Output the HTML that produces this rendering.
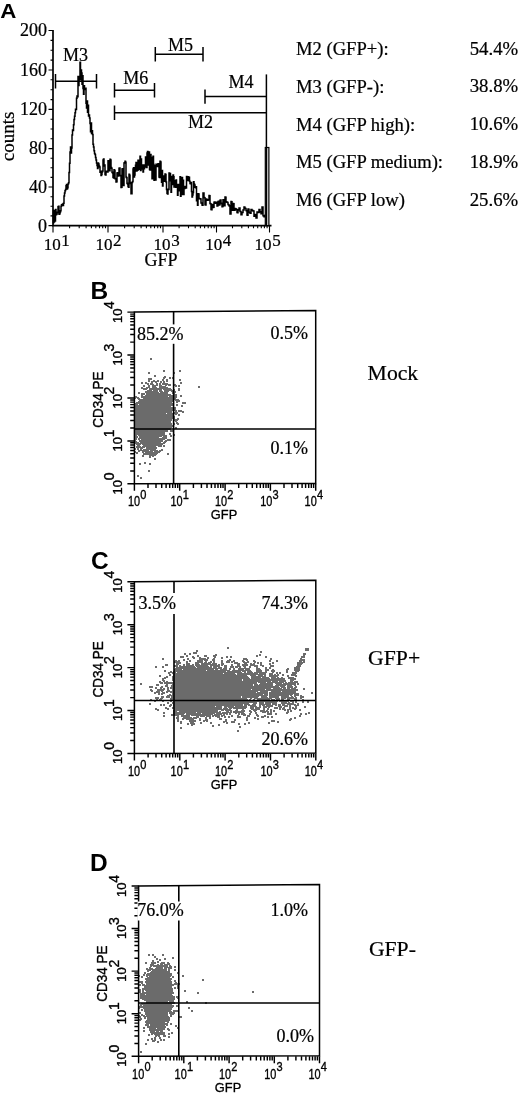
<!DOCTYPE html>
<html><head><meta charset="utf-8"><title>Figure</title>
<style>html,body{margin:0;padding:0;background:#fff}svg{display:block}text{fill:#000}
.se{font-family:"Liberation Serif",serif;stroke:#000;stroke-width:0.22px}.sa{font-family:"Liberation Sans",sans-serif}.tk text{stroke:#000;stroke-width:0.35px}.sb{font-family:"Liberation Sans",sans-serif;font-weight:bold}</style></head>
<body><svg width="520" height="1095" viewBox="0 0 520 1095">
<rect width="520" height="1095" fill="#fff"/>
<text transform="translate(0.3 18.2) scale(1.1 1)" class="sb" font-size="20.3">A</text>
<path d="M53.0 29.900000000000002 V225.6 H271.5" fill="none" stroke="#000" stroke-width="1.7"/>
<path d="M48.5 225.6H53.0M50.5 215.9H53.0M50.5 206.3H53.0M50.5 196.7H53.0M48.5 187.0H53.0M50.5 177.4H53.0M50.5 167.8H53.0M50.5 158.2H53.0M48.5 148.6H53.0M50.5 138.8H53.0M50.5 129.0H53.0M50.5 119.2H53.0M48.5 109.4H53.0M50.5 99.6H53.0M50.5 89.7H53.0M50.5 79.8H53.0M48.5 70.0H53.0M50.5 60.1H53.0M50.5 50.2H53.0M50.5 40.4H53.0M48.5 30.5H53.0" stroke="#000" stroke-width="1.1"/>
<text x="47" y="231.5" text-anchor="end" class="se" font-size="18">0</text>
<text x="47" y="193.2" text-anchor="end" class="se" font-size="18">40</text>
<text x="47" y="154.3" text-anchor="end" class="se" font-size="18">80</text>
<text x="47" y="115.1" text-anchor="end" class="se" font-size="18">120</text>
<text x="47" y="75.5" text-anchor="end" class="se" font-size="18">160</text>
<text x="47" y="36.0" text-anchor="end" class="se" font-size="18">200</text>
<path d="M53.0 225.6v7M69.6 225.6v2.6M79.2 225.6v2.6M86.1 225.6v2.6M91.4 225.6v2.6M95.8 225.6v2.6M99.5 225.6v2.6M102.7 225.6v2.6M105.5 225.6v2.6M108.0 225.6v7M124.6 225.6v2.6M134.2 225.6v2.6M141.1 225.6v2.6M146.4 225.6v2.6M150.8 225.6v2.6M154.5 225.6v2.6M157.7 225.6v2.6M160.5 225.6v2.6M163.0 225.6v7M179.1 225.6v2.6M188.5 225.6v2.6M195.2 225.6v2.6M200.4 225.6v2.6M204.6 225.6v2.6M208.2 225.6v2.6M211.3 225.6v2.6M214.1 225.6v2.6M216.5 225.6v7M232.5 225.6v2.6M241.8 225.6v2.6M248.4 225.6v2.6M253.5 225.6v2.6M257.7 225.6v2.6M261.3 225.6v2.6M264.4 225.6v2.6M267.1 225.6v2.6M269.5 225.6v7" stroke="#000" stroke-width="1.1"/>
<text x="43.7" y="250.3" class="se" font-size="17">10<tspan dx="0.6" dy="-4.2">1</tspan></text>
<text x="95.5" y="250.3" class="se" font-size="17">10<tspan dx="0.6" dy="-4.2">2</tspan></text>
<text x="153.6" y="250.3" class="se" font-size="17">10<tspan dx="0.6" dy="-4.2">3</tspan></text>
<text x="205.2" y="250.3" class="se" font-size="17">10<tspan dx="0.6" dy="-4.2">4</tspan></text>
<text x="254.6" y="250.3" class="se" font-size="17">10<tspan dx="0.6" dy="-4.2">5</tspan></text>
<text x="161" y="266.4" text-anchor="middle" class="se" font-size="18">GFP</text>
<text transform="translate(14.4 136.5) rotate(-90)" text-anchor="middle" class="se" font-size="19">counts</text>
<path d="M53.0 223.1H53.5V210.4H54.0V222.1H54.5V212.3H55.0V221.1H55.5V209.4H56.0V214.8H56.5V214.3H57.0V212.7H57.5V212.2H58.0V206.8H58.5V206.2H59.0V214.2H59.5V213.7H60.0V212.1H60.5V210.7H61.0V206.3H61.5V204.8H62.0V205.5H62.5V204.0H63.0V205.5H63.5V203.2H64.0V196.0H64.5V192.9H65.0V190.8H65.5V189.5H66.0V185.8H66.5V184.5H67.0V189.0H67.5V187.8H68.0V184.0H68.5V182.7H69.0V172.4H69.5V163.2H70.0V152.1H70.5V146.9H71.0V153.0H71.5V148.1H72.0V135.0H72.5V129.9H73.0V130.5H73.5V124.7H74.0V119.6H74.5V116.2H75.0V112.8H75.5V109.3H76.0V109.5H76.5V98.3H77.0V95.9H77.5V96.8H78.0V76.4H78.5V85.5H79.0V79.0H79.5V77.9H80.0V62.2H80.5V79.8H81.0V70.1H81.5V73.1H82.0V84.3H82.5V75.8H83.0V88.5H83.5V94.3H84.0V85.7H84.5V88.6H85.0V89.6H85.5V88.3H86.0V103.3H86.5V107.9H87.0V101.1H87.5V112.2H88.0V105.3H88.5V116.1H89.0V115.1H89.5V118.1H90.0V123.5H90.5V131.8H91.0V123.0H91.5V133.5H92.0V130.8H92.5V134.4H93.0V144.2H93.5V147.1H94.0V150.7H94.5V153.5H95.0V154.5H95.5V157.6H96.0V159.9H96.5V163.1H97.0V165.5H97.5V168.6H98.0V162.9H98.5V164.0H99.0V166.0H99.5V167.0H100.0V172.2H100.5V171.2H101.0V175.5H101.5V174.6H102.0V172.1H102.5V171.1H103.0V160.0H103.5V158.9H104.0V166.0H104.5V165.0H105.0V174.6H105.5V175.1H106.0V171.3H106.5V171.7H107.0V171.4H107.5V171.9H108.0V160.7H108.5V161.2H109.0V170.2H109.5V170.7H110.0V159.2H110.5V159.9H111.0V167.5H111.5V168.2H112.0V172.3H112.5V173.0H113.0V177.3H113.5V178.0H114.0V169.8H114.5V170.5H115.0V178.7H115.5V178.6H116.0V182.0H116.5V181.8H117.0V172.9H117.5V172.7H118.0V176.0H118.5V175.8H119.0V168.2H119.5V168.0H120.0V175.8H120.5V175.5H121.0V187.4H121.5V187.2H122.0V169.1H122.5V168.8H123.0V185.6H123.5V185.4H124.0V163.0H124.5V162.7H125.0V161.3H125.5V162.3H126.0V176.9H126.5V177.8H127.0V183.3H127.5V184.1H128.0V186.4H128.5V187.2H129.0V174.2H129.5V175.2H130.0V182.5H130.5V183.4H131.0V193.8H132.0V182.6H132.5V181.6H133.0V168.9H133.5V167.8H134.0V176.9H134.5V175.0H135.0V169.7H135.5V165.3H136.0V162.4H136.5V171.0H137.0V168.4H137.5V170.2H138.0V160.2H138.5V169.3H139.0V168.1H139.5V168.5H140.0V156.3H140.5V170.5H141.0V159.0H141.5V168.9H142.0V168.5H142.5V164.9H143.0V171.9H143.5V165.1H144.0V168.8H144.5V166.9H145.0V165.5H145.5V156.9H146.0V158.4H146.5V167.6H147.0V152.9H147.5V151.5H148.0V165.1H148.5V160.1H149.0V152.0H149.5V169.6H150.0V170.0H150.5V154.4H151.0V162.8H151.5V157.5H152.0V178.8H152.5V162.3H153.0V156.2H153.5V164.5H154.0V180.2H154.5V165.8H155.0V179.4H155.5V179.9H156.0V164.2H156.5V164.7H157.0V166.1H157.5V166.6H158.0V163.7H158.5V164.2H159.0V177.0H159.5V177.4H160.0V161.3H160.5V162.0H161.0V173.1H161.5V182.2H162.0V170.4H162.5V185.9H163.0V176.0H163.5V176.6H164.0V180.6H164.5V181.2H165.0V173.9H165.5V174.6H166.0V181.9H166.5V189.4H167.0V193.3H167.5V193.9H168.0V189.2H168.5V189.4H169.0V172.9H169.5V180.4H170.0V173.4H170.5V180.7H171.0V192.3H171.5V176.4H172.0V184.3H172.5V184.6H173.0V175.1H173.5V176.7H174.0V187.1H174.5V181.6H175.0V180.7H175.5V187.2H176.0V179.9H176.5V186.7H177.0V184.6H177.5V195.2H178.0V187.0H178.5V190.7H179.0V184.6H179.5V187.7H180.0V176.7H180.5V196.3H181.0V194.5H181.5V194.4H182.0V177.4H182.5V182.8H183.0V180.2H183.5V194.5H184.0V188.6H184.5V188.5H185.0V186.4H185.5V186.7H186.0V187.9H186.5V176.5H187.0V180.1H187.5V180.5H188.0V176.8H188.5V177.2H189.0V177.2H189.5V181.2H190.0V183.4H190.5V183.7H191.0V182.4H191.5V191.6H192.0V197.0H192.5V195.0H193.0V192.4H193.5V181.7H194.0V183.9H194.5V184.9H195.0V187.2H195.5V187.8H196.0V186.8H196.5V200.8H197.0V196.6H197.5V205.3H198.0V193.7H198.5V193.9H199.0V198.6H199.5V198.8H200.0V198.7H200.5V198.9H201.0V202.9H201.5V203.0H202.0V205.1H202.5V205.2H203.0V192.9H203.5V193.1H204.0V197.5H204.5V197.7H205.0V204.8H205.5V205.1H206.0V198.9H206.5V199.2H207.0V200.0H207.5V200.3H208.0V199.7H208.5V200.1H209.0V195.4H209.5V195.8H210.0V203.5H210.5V203.8H211.0V209.4H211.5V209.7H212.0V204.5H212.5V204.9H213.0V207.5H213.5V207.3H214.0V202.3H214.5V202.1H215.0V203.3H215.5V203.1H216.0V202.4H216.5V202.2H217.0V205.9H217.5V205.7H218.0V201.4H218.5V201.2H219.0V205.0H219.5V204.8H220.0V200.2H220.5V200.1H221.0V203.4H221.5V203.3H222.0V206.7H222.5V206.5H223.0V199.7H223.5V200.0H224.0V205.5H224.5V205.8H225.0V196.9H225.5V197.3H226.0V201.8H226.5V202.1H227.0V202.3H227.5V202.6H228.0V204.4H228.5V204.7H229.0V205.7H229.5V206.0H230.0V214.0H230.5V214.1H231.0V201.6H231.5V201.8H232.0V210.0H232.5V210.2H233.0V203.5H233.5V203.7H234.0V210.0H234.5V210.2H235.0V208.6H235.5V208.7H236.0V209.2H236.5V209.4H237.0V212.6H237.5V212.8H238.0V209.8H238.5V210.0H239.0V207.9H239.5V208.1H240.0V211.5H240.5V211.6H241.0V214.7H241.5V214.8H242.0V212.5H242.5V212.6H243.0V209.9H243.5V210.0H244.0V207.1H244.5V207.2H245.0V208.4H245.5V208.6H246.0V210.6H246.5V210.7H247.0V215.1H247.5V215.2H248.0V209.0H248.5V209.2H249.0V212.2H249.5V212.3H250.0V213.3H251.0V209.6H252.0V210.5H253.0V210.9H254.0V216.3H255.0V214.5H256.0V218.1H257.0V211.9H258.0V212.5H259.0V209.5H260.0V211.9H260.5V211.8H261.0V213.7H261.5V213.7H262.0V206.9H262.5V206.9H263.0V215.8H263.5V215.8H264.0V216.7H265.0V214.4H265.0" fill="none" stroke="#000" stroke-width="1.5" stroke-linejoin="miter"/>
<rect x="265.3" y="147.5" width="3.6" height="78.1" fill="#d8d8d8" stroke="#000" stroke-width="1.2"/>
<path d="M55.5 81.2H96.5M55.5 74.0v14.4M96.5 74.0v14.4" stroke="#000" stroke-width="1.5" fill="none"/>
<text x="75.5" y="60.5" text-anchor="middle" class="se" font-size="18">M3</text>
<path d="M114.5 90.2H154.5M114.5 83.0v14.4M154.5 83.0v14.4" stroke="#000" stroke-width="1.5" fill="none"/>
<text x="135.7" y="83.8" text-anchor="middle" class="se" font-size="18">M6</text>
<path d="M155.3 54.2H203M155.3 47.0v14.4M203 47.0v14.4" stroke="#000" stroke-width="1.5" fill="none"/>
<text x="180.4" y="51.3" text-anchor="middle" class="se" font-size="18">M5</text>
<path d="M205 96.6H266.3M205 89.39999999999999v14.4" stroke="#000" stroke-width="1.5" fill="none"/>
<text x="241" y="88" text-anchor="middle" class="se" font-size="18">M4</text>
<path d="M114.5 112.8H266.3M114.5 105.6v14.4" stroke="#000" stroke-width="1.5" fill="none"/>
<text x="200.4" y="128.4" text-anchor="middle" class="se" font-size="18">M2</text>
<path d="M266.4 74.4V225.6" stroke="#000" stroke-width="1.5"/>
<text x="296" y="55" class="se" font-size="18.6">M2 (GFP+):</text>
<text x="518.2" y="54.7" text-anchor="end" class="se" font-size="18.8">54.4%</text>
<text x="296" y="92.7" class="se" font-size="18.6">M3 (GFP-):</text>
<text x="518.2" y="92.4" text-anchor="end" class="se" font-size="18.8">38.8%</text>
<text x="296" y="130.5" class="se" font-size="18.6">M4 (GFP high):</text>
<text x="518.2" y="130.2" text-anchor="end" class="se" font-size="18.8">10.6%</text>
<text x="296" y="168.2" class="se" font-size="18.6">M5 (GFP medium):</text>
<text x="518.2" y="167.89999999999998" text-anchor="end" class="se" font-size="18.8">18.9%</text>
<text x="296" y="206" class="se" font-size="18.6">M6 (GFP low)</text>
<text x="518.2" y="205.7" text-anchor="end" class="se" font-size="18.8">25.6%</text>
<text transform="translate(90.4 298.7) scale(1.05 1)" class="sb" font-size="23.3">B</text>
<path d="M150 358.5h2M150 359.5h2M163 370.5h2M179 370.5h2M163 371.5h2M179 371.5h2M148 372.5h2M173 372.5h2M148 373.5h2M173 373.5h2M154 375.5h2M154 376.5h2M164 376.5h2M163 377.5h3M169 377.5h2M172 377.5h2M148 378.5h4M163 378.5h2M169 378.5h2M172 378.5h2M148 379.5h4M162 379.5h2M166 379.5h2M179 379.5h2M148 380.5h2M153 380.5h2M157 380.5h2M162 380.5h2M166 380.5h2M179 380.5h2M148 381.5h2M151 381.5h8M160 381.5h2M163 381.5h2M166 381.5h2M141 382.5h2M145 382.5h2M151 382.5h2M155 382.5h2M160 382.5h2M163 382.5h2M180 382.5h2M141 383.5h2M145 383.5h4M150 383.5h3M156 383.5h2M159 383.5h2M162 383.5h6M180 383.5h2M147 384.5h2M150 384.5h4M156 384.5h2M159 384.5h2M162 384.5h9M174 384.5h2M143 385.5h2M148 385.5h2M152 385.5h6M159 385.5h3M165 385.5h2M168 385.5h3M174 385.5h3M178 385.5h2M143 386.5h2M148 386.5h2M152 386.5h4M159 386.5h7M175 386.5h2M178 386.5h2M198 386.5h2M141 387.5h2M146 387.5h4M152 387.5h5M159 387.5h9M198 387.5h2M141 388.5h7M149 388.5h22M178 388.5h2M143 389.5h4M149 389.5h13M163 389.5h9M173 389.5h2M178 389.5h2M147 390.5h5M153 390.5h5M159 390.5h3M164 390.5h11M178 390.5h2M145 391.5h13M159 391.5h4M164 391.5h5M171 391.5h2M174 391.5h2M138 392.5h2M145 392.5h14M160 392.5h8M172 392.5h4M138 393.5h2M141 393.5h4M146 393.5h22M172 393.5h3M141 394.5h4M146 394.5h25M173 394.5h4M141 395.5h2M145 395.5h32M180 395.5h2M135 396.5h2M141 396.5h27M169 396.5h8M180 396.5h2M135 397.5h4M141 397.5h36M135 398.5h1M137 398.5h3M143 398.5h33M138 399.5h35M174 399.5h5M139 400.5h34M175 400.5h5M138 401.5h35M176 401.5h4M136 402.5h36M176 402.5h2M182 402.5h4M135 403.5h39M182 403.5h4M135 404.5h3M139 404.5h35M176 404.5h2M135 405.5h38M176 405.5h2M181 405.5h2M135 406.5h36M181 406.5h2M135 407.5h38M174 407.5h2M135 408.5h38M174 408.5h2M135 409.5h41M135 410.5h42M178 410.5h4M135 411.5h37M175 411.5h2M178 411.5h6M135 412.5h37M174 412.5h4M182 412.5h2M135 413.5h31M167 413.5h6M174 413.5h4M135 414.5h38M175 414.5h2M178 414.5h2M135 415.5h38M178 415.5h2M135 416.5h40M135 417.5h40M135 418.5h40M177 418.5h2M135 419.5h37M173 419.5h6M135 420.5h37M174 420.5h4M135 421.5h36M175 421.5h2M135 422.5h36M176 422.5h2M135 423.5h37M173 423.5h2M176 423.5h3M135 424.5h37M173 424.5h2M177 424.5h2M135 425.5h38M135 426.5h38M135 427.5h37M175 427.5h2M135 428.5h36M175 428.5h2M135 429.5h36M135 430.5h33M170 430.5h3M135 431.5h33M170 431.5h3M135 432.5h30M135 433.5h30M169 433.5h2M135 434.5h30M169 434.5h2M173 434.5h2M135 435.5h2M138 435.5h29M170 435.5h2M173 435.5h2M135 436.5h3M139 436.5h23M163 436.5h4M170 436.5h2M135 437.5h3M139 437.5h20M162 437.5h5M135 438.5h2M138 438.5h29M135 439.5h2M138 439.5h2M141 439.5h24M167 439.5h4M135 440.5h1M139 440.5h24M165 440.5h6M135 441.5h2M139 441.5h24M164 441.5h3M135 442.5h4M140 442.5h21M163 442.5h3M135 443.5h30M136 444.5h5M142 444.5h21M137 445.5h3M143 445.5h19M163 445.5h2M136 446.5h5M142 446.5h14M158 446.5h4M163 446.5h2M136 447.5h9M146 447.5h11M135 448.5h1M137 448.5h2M140 448.5h3M146 448.5h11M135 449.5h1M137 449.5h2M140 449.5h2M143 449.5h13M161 449.5h2M138 450.5h11M150 450.5h8M159 450.5h4M135 451.5h1M138 451.5h2M142 451.5h11M154 451.5h7M135 452.5h3M142 452.5h2M145 452.5h15M136 453.5h2M143 453.5h15M167 453.5h2M143 454.5h14M167 454.5h2M142 455.5h2M149 455.5h7M142 456.5h2M149 456.5h2M152 456.5h2M149 457.5h2M154 458.5h2M154 459.5h2M144 462.5h2M139 463.5h2M144 463.5h2M149 463.5h2M139 464.5h2M149 464.5h2M148 470.5h2M148 471.5h2M137 475.5h2M137 476.5h2M140 477.5h2M140 478.5h2" stroke="#6b6b6b" stroke-width="1" fill="none" shape-rendering="crispEdges"/>
<path d="M134.4 312.1L315.7 310.5L315.7 483.40000000000003L134.4 483.8Z" fill="none" stroke="#000" stroke-width="1.5"/>
<path d="M173.6 311.70000000000005V483.8M134.4 429H315.7" stroke="#000" stroke-width="1.6"/>
<path d="M134.4 483.8v7M134.4 483.8h-7M148.0 483.8v4.2M134.4 470.9h-4.2M156.0 483.8v4.2M134.4 463.3h-4.2M161.7 483.8v4.2M134.4 458.0h-4.2M166.1 483.8v4.2M134.4 453.8h-4.2M169.7 483.8v4.2M134.4 450.4h-4.2M172.7 483.8v4.2M134.4 447.5h-4.2M175.3 483.8v4.2M134.4 445.0h-4.2M177.7 483.8v4.2M134.4 442.8h-4.2M179.7 483.8v7M134.4 440.9h-7M193.4 483.8v4.2M134.4 428.0h-4.2M201.4 483.8v4.2M134.4 420.4h-4.2M207.0 483.8v4.2M134.4 415.0h-4.2M211.4 483.8v4.2M134.4 410.9h-4.2M215.0 483.8v4.2M134.4 407.5h-4.2M218.0 483.8v4.2M134.4 404.6h-4.2M220.7 483.8v4.2M134.4 402.1h-4.2M223.0 483.8v4.2M134.4 399.9h-4.2M225.1 483.8v7M134.4 398.0h-7M238.7 483.8v4.2M134.4 385.0h-4.2M246.7 483.8v4.2M134.4 377.5h-4.2M252.3 483.8v4.2M134.4 372.1h-4.2M256.7 483.8v4.2M134.4 367.9h-4.2M260.3 483.8v4.2M134.4 364.5h-4.2M263.4 483.8v4.2M134.4 361.7h-4.2M266.0 483.8v4.2M134.4 359.2h-4.2M268.3 483.8v4.2M134.4 357.0h-4.2M270.4 483.8v7M134.4 355.0h-7M284.0 483.8v4.2M134.4 342.1h-4.2M292.0 483.8v4.2M134.4 334.5h-4.2M297.7 483.8v4.2M134.4 329.2h-4.2M302.1 483.8v4.2M134.4 325.0h-4.2M305.6 483.8v4.2M134.4 321.6h-4.2M308.7 483.8v4.2M134.4 318.7h-4.2M311.3 483.8v4.2M134.4 316.3h-4.2M313.6 483.8v4.2M134.4 314.1h-4.2M315.7 483.8v7M134.4 312.1h-7" stroke="#000" stroke-width="1.45"/>
<g transform="translate(127.9 506.40000000000003)" class="tk"><text class="sa" font-size="14" transform="scale(0.78 1)">10</text><text x="12.3" y="-7.4" class="sa" font-size="13" transform="scale(0.85 1)" style="transform-origin:12.3px 0">0</text></g>
<g transform="translate(122.0 494.4) rotate(-90)" class="tk"><text class="sa" font-size="13" transform="scale(1 0.93)">10</text><text x="14.2" y="-7.6" class="sa" font-size="14">0</text></g>
<g transform="translate(170.5 506.40000000000003)" class="tk"><text class="sa" font-size="14" transform="scale(0.78 1)">10</text><text x="12.3" y="-7.4" class="sa" font-size="13" transform="scale(0.85 1)" style="transform-origin:12.3px 0">1</text></g>
<g transform="translate(122.0 451.5) rotate(-90)" class="tk"><text class="sa" font-size="13" transform="scale(1 0.93)">10</text><text x="14.2" y="-7.6" class="sa" font-size="14">1</text></g>
<g transform="translate(215.0 506.40000000000003)" class="tk"><text class="sa" font-size="14" transform="scale(0.78 1)">10</text><text x="12.3" y="-7.4" class="sa" font-size="13" transform="scale(0.85 1)" style="transform-origin:12.3px 0">2</text></g>
<g transform="translate(122.0 408.6) rotate(-90)" class="tk"><text class="sa" font-size="13" transform="scale(1 0.93)">10</text><text x="14.2" y="-7.6" class="sa" font-size="14">2</text></g>
<g transform="translate(260.3 506.40000000000003)" class="tk"><text class="sa" font-size="14" transform="scale(0.78 1)">10</text><text x="12.3" y="-7.4" class="sa" font-size="13" transform="scale(0.85 1)" style="transform-origin:12.3px 0">3</text></g>
<g transform="translate(122.0 365.6) rotate(-90)" class="tk"><text class="sa" font-size="13" transform="scale(1 0.93)">10</text><text x="14.2" y="-7.6" class="sa" font-size="14">3</text></g>
<g transform="translate(304.6 506.40000000000003)" class="tk"><text class="sa" font-size="14" transform="scale(0.78 1)">10</text><text x="12.3" y="-7.4" class="sa" font-size="13" transform="scale(0.85 1)" style="transform-origin:12.3px 0">4</text></g>
<g transform="translate(122.0 323.1) rotate(-90)" class="tk"><text class="sa" font-size="13" transform="scale(1 0.93)">10</text><text x="14.2" y="-7.6" class="sa" font-size="14">4</text></g>
<text x="224.1" y="519.3" text-anchor="middle" class="sa" font-size="12.8" letter-spacing="0.1" stroke="#000" stroke-width="0.3">GFP</text>
<g class="tk" transform="translate(103.0 399.70000000000005) rotate(-90) scale(0.9 1)"><text text-anchor="middle" class="sa" font-size="15">CD34 PE</text></g>
<rect x="136.5" y="324.4" width="48.5" height="19.4" fill="#fff"/>
<text x="137" y="339.5" text-anchor="start" class="se" font-size="18">85.2%</text>
<text x="308" y="339" text-anchor="end" class="se" font-size="18">0.5%</text>
<text x="308" y="454" text-anchor="end" class="se" font-size="18">0.1%</text>
<text x="367.6" y="380.4" class="se" font-size="21.7">Mock</text>
<text transform="translate(91.0 568.6) scale(1.05 1)" class="sb" font-size="23.3">C</text>
<path d="M227 647.5h2M227 648.5h2M305 648.5h4M305 649.5h4M196 650.5h2M305 650.5h4M196 651.5h2M260 651.5h2M193 652.5h4M260 652.5h2M184 653.5h2M189 653.5h2M193 653.5h4M303 653.5h3M184 654.5h2M189 654.5h2M215 654.5h2M259 654.5h2M303 654.5h3M186 655.5h2M197 655.5h2M204 655.5h3M213 655.5h4M256 655.5h2M259 655.5h2M303 655.5h2M180 656.5h4M186 656.5h2M192 656.5h2M197 656.5h2M204 656.5h3M213 656.5h3M226 656.5h2M230 656.5h2M256 656.5h2M265 656.5h2M301 656.5h4M180 657.5h4M192 657.5h3M199 657.5h2M207 657.5h2M214 657.5h2M221 657.5h2M226 657.5h2M230 657.5h2M265 657.5h2M301 657.5h4M162 658.5h2M187 658.5h2M193 658.5h2M199 658.5h7M207 658.5h2M213 658.5h2M221 658.5h2M243 658.5h4M270 658.5h2M300 658.5h2M162 659.5h2M183 659.5h2M187 659.5h2M199 659.5h9M212 659.5h3M229 659.5h2M243 659.5h5M270 659.5h2M300 659.5h5M175 660.5h2M178 660.5h2M183 660.5h2M189 660.5h2M197 660.5h6M204 660.5h4M212 660.5h3M221 660.5h2M227 660.5h4M233 660.5h2M242 660.5h2M246 660.5h2M253 660.5h2M269 660.5h2M276 660.5h2M299 660.5h6M174 661.5h6M186 661.5h2M189 661.5h2M197 661.5h6M205 661.5h2M210 661.5h2M213 661.5h2M221 661.5h2M226 661.5h4M231 661.5h4M242 661.5h3M247 661.5h2M253 661.5h3M269 661.5h2M276 661.5h2M299 661.5h3M303 661.5h2M174 662.5h7M186 662.5h2M195 662.5h8M204 662.5h3M208 662.5h4M213 662.5h2M221 662.5h2M226 662.5h4M231 662.5h2M234 662.5h4M243 662.5h6M254 662.5h2M257 662.5h2M260 662.5h2M272 662.5h2M297 662.5h8M176 663.5h5M186 663.5h4M195 663.5h4M201 663.5h10M212 663.5h5M221 663.5h3M234 663.5h6M244 663.5h3M250 663.5h2M253 663.5h2M257 663.5h2M260 663.5h2M269 663.5h2M272 663.5h2M297 663.5h6M165 664.5h3M176 664.5h3M183 664.5h2M186 664.5h4M192 664.5h2M195 664.5h5M201 664.5h16M218 664.5h2M221 664.5h3M231 664.5h2M237 664.5h3M242 664.5h6M250 664.5h5M260 664.5h2M269 664.5h2M297 664.5h5M165 665.5h3M174 665.5h4M179 665.5h2M183 665.5h2M186 665.5h8M195 665.5h13M210 665.5h10M221 665.5h2M224 665.5h3M231 665.5h2M237 665.5h3M242 665.5h6M250 665.5h8M260 665.5h4M270 665.5h4M297 665.5h4M155 666.5h2M162 666.5h2M174 666.5h4M179 666.5h16M196 666.5h13M210 666.5h2M213 666.5h7M224 666.5h3M230 666.5h4M235 666.5h6M243 666.5h3M249 666.5h2M254 666.5h4M262 666.5h2M270 666.5h4M296 666.5h5M155 667.5h2M162 667.5h2M176 667.5h20M197 667.5h15M213 667.5h4M218 667.5h4M224 667.5h3M230 667.5h4M235 667.5h3M239 667.5h2M244 667.5h2M249 667.5h2M256 667.5h2M265 667.5h2M269 667.5h2M294 667.5h6M175 668.5h47M223 668.5h4M229 668.5h2M233 668.5h2M238 668.5h12M256 668.5h4M265 668.5h2M269 668.5h2M287 668.5h2M294 668.5h6M174 669.5h8M183 669.5h31M215 669.5h3M220 669.5h7M229 669.5h2M233 669.5h2M238 669.5h6M245 669.5h5M256 669.5h5M265 669.5h4M272 669.5h2M286 669.5h3M294 669.5h6M164 670.5h2M174 670.5h32M207 670.5h23M232 670.5h19M256 670.5h6M265 670.5h4M271 670.5h4M286 670.5h2M294 670.5h6M164 671.5h2M170 671.5h2M173 671.5h53M227 671.5h14M242 671.5h4M247 671.5h5M256 671.5h6M265 671.5h2M271 671.5h4M286 671.5h2M295 671.5h4M168 672.5h8M177 672.5h65M244 672.5h2M247 672.5h6M254 672.5h13M272 672.5h2M276 672.5h2M279 672.5h2M286 672.5h2M292 672.5h5M168 673.5h2M172 673.5h51M224 673.5h11M237 673.5h21M259 673.5h7M269 673.5h4M276 673.5h2M279 673.5h2M292 673.5h5M169 674.5h2M173 674.5h63M237 674.5h29M269 674.5h4M274 674.5h2M277 674.5h2M282 674.5h2M291 674.5h5M159 675.5h2M169 675.5h2M173 675.5h74M250 675.5h6M258 675.5h5M264 675.5h2M269 675.5h10M282 675.5h2M287 675.5h2M291 675.5h6M159 676.5h2M166 676.5h2M172 676.5h76M251 676.5h15M269 676.5h9M287 676.5h2M295 676.5h2M164 677.5h4M172 677.5h77M251 677.5h10M262 677.5h7M271 677.5h5M277 677.5h2M281 677.5h2M288 677.5h6M162 678.5h4M172 678.5h78M251 678.5h19M271 678.5h14M288 678.5h8M162 679.5h2M172 679.5h70M243 679.5h42M290 679.5h6M162 680.5h3M172 680.5h70M243 680.5h43M290 680.5h4M159 681.5h2M163 681.5h2M166 681.5h2M173 681.5h98M272 681.5h6M279 681.5h7M290 681.5h3M294 681.5h4M159 682.5h4M164 682.5h93M258 682.5h8M267 682.5h17M285 682.5h2M288 682.5h10M140 683.5h2M160 683.5h3M164 683.5h93M260 683.5h13M275 683.5h7M283 683.5h13M297 683.5h2M140 684.5h2M156 684.5h3M166 684.5h2M172 684.5h81M254 684.5h4M259 684.5h14M276 684.5h20M297 684.5h2M156 685.5h3M165 685.5h3M171 685.5h82M254 685.5h19M275 685.5h11M287 685.5h5M294 685.5h2M149 686.5h4M161 686.5h2M165 686.5h3M171 686.5h108M280 686.5h5M287 686.5h6M295 686.5h2M149 687.5h4M155 687.5h2M160 687.5h3M167 687.5h2M170 687.5h110M281 687.5h5M287 687.5h6M294 687.5h3M155 688.5h2M160 688.5h2M163 688.5h2M167 688.5h2M170 688.5h101M273 688.5h9M283 688.5h3M287 688.5h3M291 688.5h5M303 688.5h2M150 689.5h2M157 689.5h8M167 689.5h2M172 689.5h79M252 689.5h13M266 689.5h32M303 689.5h2M150 690.5h3M157 690.5h7M167 690.5h3M172 690.5h126M151 691.5h2M156 691.5h4M161 691.5h2M166 691.5h92M260 691.5h8M271 691.5h10M282 691.5h14M154 692.5h6M162 692.5h3M166 692.5h2M170 692.5h86M257 692.5h11M269 692.5h27M311 692.5h2M154 693.5h2M158 693.5h2M161 693.5h4M172 693.5h96M269 693.5h30M311 693.5h2M158 694.5h2M161 694.5h2M169 694.5h2M172 694.5h91M264 694.5h4M269 694.5h24M294 694.5h5M167 695.5h101M269 695.5h20M290 695.5h2M294 695.5h5M300 695.5h2M161 696.5h3M166 696.5h4M171 696.5h70M242 696.5h17M261 696.5h6M269 696.5h10M281 696.5h8M291 696.5h2M294 696.5h2M300 696.5h4M155 697.5h4M161 697.5h3M166 697.5h4M171 697.5h70M242 697.5h16M261 697.5h7M269 697.5h10M281 697.5h13M295 697.5h2M300 697.5h4M155 698.5h4M160 698.5h3M170 698.5h77M250 698.5h2M254 698.5h18M275 698.5h5M281 698.5h5M287 698.5h10M300 698.5h2M150 699.5h2M156 699.5h2M159 699.5h3M170 699.5h78M249 699.5h2M253 699.5h2M257 699.5h13M271 699.5h4M276 699.5h4M281 699.5h3M287 699.5h3M294 699.5h3M302 699.5h2M150 700.5h2M154 700.5h2M159 700.5h2M162 700.5h2M170 700.5h64M235 700.5h20M256 700.5h9M267 700.5h3M271 700.5h7M279 700.5h10M290 700.5h2M302 700.5h2M154 701.5h2M162 701.5h2M170 701.5h2M173 701.5h105M279 701.5h10M290 701.5h4M295 701.5h2M302 701.5h2M307 701.5h2M167 702.5h2M172 702.5h85M259 702.5h5M265 702.5h12M281 702.5h6M288 702.5h2M292 702.5h2M295 702.5h2M302 702.5h2M307 702.5h2M149 703.5h2M167 703.5h2M172 703.5h77M253 703.5h4M259 703.5h5M265 703.5h6M272 703.5h5M281 703.5h13M297 703.5h2M149 704.5h2M160 704.5h2M163 704.5h2M170 704.5h2M173 704.5h70M244 704.5h6M252 704.5h4M259 704.5h12M272 704.5h5M278 704.5h3M282 704.5h3M287 704.5h9M297 704.5h2M160 705.5h2M163 705.5h2M169 705.5h3M173 705.5h70M244 705.5h3M248 705.5h8M259 705.5h2M262 705.5h3M266 705.5h7M275 705.5h2M278 705.5h3M282 705.5h6M289 705.5h2M294 705.5h5M169 706.5h2M173 706.5h42M216 706.5h6M224 706.5h10M235 706.5h12M250 706.5h7M259 706.5h2M263 706.5h10M278 706.5h4M284 706.5h4M289 706.5h2M295 706.5h2M304 706.5h2M165 707.5h2M172 707.5h50M224 707.5h3M228 707.5h19M250 707.5h4M255 707.5h6M263 707.5h4M268 707.5h2M274 707.5h4M279 707.5h3M283 707.5h2M289 707.5h2M292 707.5h2M295 707.5h2M304 707.5h2M155 708.5h2M165 708.5h4M172 708.5h50M223 708.5h5M229 708.5h3M233 708.5h13M250 708.5h4M255 708.5h5M263 708.5h2M267 708.5h2M274 708.5h4M279 708.5h2M282 708.5h3M289 708.5h2M292 708.5h5M155 709.5h4M167 709.5h2M174 709.5h57M236 709.5h2M242 709.5h2M251 709.5h9M263 709.5h2M267 709.5h2M270 709.5h2M279 709.5h2M282 709.5h4M287 709.5h4M294 709.5h2M299 709.5h2M157 710.5h2M173 710.5h45M221 710.5h3M225 710.5h7M235 710.5h3M241 710.5h4M249 710.5h2M253 710.5h4M260 710.5h5M266 710.5h2M270 710.5h2M273 710.5h2M284 710.5h2M287 710.5h2M290 710.5h2M299 710.5h2M173 711.5h4M179 711.5h39M219 711.5h2M226 711.5h3M230 711.5h2M233 711.5h12M249 711.5h3M254 711.5h2M260 711.5h9M270 711.5h2M273 711.5h2M287 711.5h2M290 711.5h2M163 712.5h2M173 712.5h23M197 712.5h24M222 712.5h10M233 712.5h11M250 712.5h2M255 712.5h2M262 712.5h4M267 712.5h2M270 712.5h2M286 712.5h3M308 712.5h2M163 713.5h2M173 713.5h12M186 713.5h15M202 713.5h13M216 713.5h12M229 713.5h2M235 713.5h2M238 713.5h2M241 713.5h4M249 713.5h2M255 713.5h2M267 713.5h5M275 713.5h2M286 713.5h2M300 713.5h2M305 713.5h2M308 713.5h2M171 714.5h13M186 714.5h27M214 714.5h8M223 714.5h2M226 714.5h2M229 714.5h2M238 714.5h2M241 714.5h5M249 714.5h2M256 714.5h2M267 714.5h5M275 714.5h2M300 714.5h2M305 714.5h2M163 715.5h2M171 715.5h8M181 715.5h9M191 715.5h20M212 715.5h8M221 715.5h4M231 715.5h2M237 715.5h2M243 715.5h3M247 715.5h3M256 715.5h3M264 715.5h2M299 715.5h2M163 716.5h2M177 716.5h2M181 716.5h9M196 716.5h3M200 716.5h5M206 716.5h5M212 716.5h2M215 716.5h5M221 716.5h2M224 716.5h2M228 716.5h2M231 716.5h2M237 716.5h4M247 716.5h3M257 716.5h2M261 716.5h5M267 716.5h2M271 716.5h2M299 716.5h2M176 717.5h3M183 717.5h9M193 717.5h6M205 717.5h2M209 717.5h2M217 717.5h3M224 717.5h2M228 717.5h2M237 717.5h4M246 717.5h2M254 717.5h2M261 717.5h3M267 717.5h2M271 717.5h2M294 717.5h2M176 718.5h3M182 718.5h15M199 718.5h2M205 718.5h2M209 718.5h2M219 718.5h3M246 718.5h2M254 718.5h2M257 718.5h2M290 718.5h2M294 718.5h2M177 719.5h2M182 719.5h2M186 719.5h8M199 719.5h2M205 719.5h3M219 719.5h3M225 719.5h2M234 719.5h2M246 719.5h2M257 719.5h2M289 719.5h3M177 720.5h2M189 720.5h7M199 720.5h2M203 720.5h5M225 720.5h2M234 720.5h2M246 720.5h2M271 720.5h4M289 720.5h2M177 721.5h2M180 721.5h2M189 721.5h7M203 721.5h2M206 721.5h2M223 721.5h4M231 721.5h4M271 721.5h4M277 721.5h2M180 722.5h2M190 722.5h4M200 722.5h2M210 722.5h2M223 722.5h2M226 722.5h2M231 722.5h4M248 722.5h2M268 722.5h2M277 722.5h2M180 723.5h2M187 723.5h2M190 723.5h5M200 723.5h2M210 723.5h2M226 723.5h2M238 723.5h2M244 723.5h2M248 723.5h2M268 723.5h2M187 724.5h2M191 724.5h4M218 724.5h2M238 724.5h2M244 724.5h2M191 725.5h2M212 725.5h2M218 725.5h2M212 726.5h2M239 726.5h2M180 727.5h2M239 727.5h2M180 728.5h2M237 730.5h2M237 731.5h2" stroke="#6b6b6b" stroke-width="1" fill="none" shape-rendering="crispEdges"/>
<path d="M134.4 581.8L315.8 580.1999999999999L315.8 753.0L134.4 753.4Z" fill="none" stroke="#000" stroke-width="1.5"/>
<path d="M174 581.4V753.4M134.4 700.5H315.8" stroke="#000" stroke-width="1.6"/>
<path d="M134.4 753.4v7M134.4 753.4h-7M148.1 753.4v4.2M134.4 740.5h-4.2M156.0 753.4v4.2M134.4 732.9h-4.2M161.7 753.4v4.2M134.4 727.6h-4.2M166.1 753.4v4.2M134.4 723.4h-4.2M169.7 753.4v4.2M134.4 720.0h-4.2M172.7 753.4v4.2M134.4 717.1h-4.2M175.4 753.4v4.2M134.4 714.7h-4.2M177.7 753.4v4.2M134.4 712.5h-4.2M179.8 753.4v7M134.4 710.5h-7M193.4 753.4v4.2M134.4 697.6h-4.2M201.4 753.4v4.2M134.4 690.0h-4.2M207.1 753.4v4.2M134.4 684.7h-4.2M211.4 753.4v4.2M134.4 680.5h-4.2M215.0 753.4v4.2M134.4 677.1h-4.2M218.1 753.4v4.2M134.4 674.2h-4.2M220.7 753.4v4.2M134.4 671.8h-4.2M223.0 753.4v4.2M134.4 669.6h-4.2M225.1 753.4v7M134.4 667.6h-7M238.8 753.4v4.2M134.4 654.7h-4.2M246.7 753.4v4.2M134.4 647.1h-4.2M252.4 753.4v4.2M134.4 641.8h-4.2M256.8 753.4v4.2M134.4 637.6h-4.2M260.4 753.4v4.2M134.4 634.2h-4.2M263.4 753.4v4.2M134.4 631.3h-4.2M266.1 753.4v4.2M134.4 628.9h-4.2M268.4 753.4v4.2M134.4 626.7h-4.2M270.5 753.4v7M134.4 624.7h-7M284.1 753.4v4.2M134.4 611.8h-4.2M292.1 753.4v4.2M134.4 604.2h-4.2M297.8 753.4v4.2M134.4 598.9h-4.2M302.1 753.4v4.2M134.4 594.7h-4.2M305.7 753.4v4.2M134.4 591.3h-4.2M308.8 753.4v4.2M134.4 588.4h-4.2M311.4 753.4v4.2M134.4 586.0h-4.2M313.7 753.4v4.2M134.4 583.8h-4.2M315.8 753.4v7M134.4 581.8h-7" stroke="#000" stroke-width="1.45"/>
<g transform="translate(127.9 776.0)" class="tk"><text class="sa" font-size="14" transform="scale(0.78 1)">10</text><text x="12.3" y="-7.4" class="sa" font-size="13" transform="scale(0.85 1)" style="transform-origin:12.3px 0">0</text></g>
<g transform="translate(122.0 764.0) rotate(-90)" class="tk"><text class="sa" font-size="13" transform="scale(1 0.93)">10</text><text x="14.2" y="-7.6" class="sa" font-size="14">0</text></g>
<g transform="translate(170.6 776.0)" class="tk"><text class="sa" font-size="14" transform="scale(0.78 1)">10</text><text x="12.3" y="-7.4" class="sa" font-size="13" transform="scale(0.85 1)" style="transform-origin:12.3px 0">1</text></g>
<g transform="translate(122.0 721.1) rotate(-90)" class="tk"><text class="sa" font-size="13" transform="scale(1 0.93)">10</text><text x="14.2" y="-7.6" class="sa" font-size="14">1</text></g>
<g transform="translate(215.0 776.0)" class="tk"><text class="sa" font-size="14" transform="scale(0.78 1)">10</text><text x="12.3" y="-7.4" class="sa" font-size="13" transform="scale(0.85 1)" style="transform-origin:12.3px 0">2</text></g>
<g transform="translate(122.0 678.2) rotate(-90)" class="tk"><text class="sa" font-size="13" transform="scale(1 0.93)">10</text><text x="14.2" y="-7.6" class="sa" font-size="14">2</text></g>
<g transform="translate(260.4 776.0)" class="tk"><text class="sa" font-size="14" transform="scale(0.78 1)">10</text><text x="12.3" y="-7.4" class="sa" font-size="13" transform="scale(0.85 1)" style="transform-origin:12.3px 0">3</text></g>
<g transform="translate(122.0 635.3) rotate(-90)" class="tk"><text class="sa" font-size="13" transform="scale(1 0.93)">10</text><text x="14.2" y="-7.6" class="sa" font-size="14">3</text></g>
<g transform="translate(304.7 776.0)" class="tk"><text class="sa" font-size="14" transform="scale(0.78 1)">10</text><text x="12.3" y="-7.4" class="sa" font-size="13" transform="scale(0.85 1)" style="transform-origin:12.3px 0">4</text></g>
<g transform="translate(122.0 592.8) rotate(-90)" class="tk"><text class="sa" font-size="13" transform="scale(1 0.93)">10</text><text x="14.2" y="-7.6" class="sa" font-size="14">4</text></g>
<text x="224.1" y="788.9" text-anchor="middle" class="sa" font-size="12.8" letter-spacing="0.1" stroke="#000" stroke-width="0.3">GFP</text>
<g class="tk" transform="translate(103.0 669.4) rotate(-90) scale(0.9 1)"><text text-anchor="middle" class="sa" font-size="15">CD34 PE</text></g>
<rect x="138" y="593" width="40" height="21" fill="#fff"/>
<text x="138.6" y="608.6" text-anchor="start" class="se" font-size="18">3.5%</text>
<text x="308" y="609" text-anchor="end" class="se" font-size="18">74.3%</text>
<text x="308" y="745" text-anchor="end" class="se" font-size="18">20.6%</text>
<text x="368.1" y="664.6" class="se" font-size="21.7">GFP+</text>
<text transform="translate(90.0 871.4) scale(1.05 1)" class="sb" font-size="23.3">D</text>
<path d="M148 954.5h2M152 954.5h2M162 954.5h2M148 955.5h2M152 955.5h2M162 955.5h2M154 956.5h2M154 957.5h2M172 957.5h2M156 958.5h2M164 958.5h2M172 958.5h2M156 959.5h2M159 959.5h2M164 959.5h2M152 960.5h2M159 960.5h2M152 961.5h2M157 961.5h2M145 962.5h2M151 962.5h5M157 962.5h2M161 962.5h4M167 962.5h2M145 963.5h2M151 963.5h5M160 963.5h5M167 963.5h3M150 964.5h4M157 964.5h2M160 964.5h3M164 964.5h6M150 965.5h18M169 965.5h2M150 966.5h2M153 966.5h15M169 966.5h3M174 966.5h2M149 967.5h2M156 967.5h7M164 967.5h8M174 967.5h2M146 968.5h2M149 968.5h4M155 968.5h8M164 968.5h3M168 968.5h4M146 969.5h21M168 969.5h2M174 969.5h2M147 970.5h4M152 970.5h15M168 970.5h2M174 970.5h2M147 971.5h2M151 971.5h19M144 972.5h2M150 972.5h20M177 972.5h2M144 973.5h2M147 973.5h25M177 973.5h2M143 974.5h2M146 974.5h26M139 975.5h1M143 975.5h2M146 975.5h26M182 975.5h2M139 976.5h1M141 976.5h2M146 976.5h2M149 976.5h22M172 976.5h2M182 976.5h2M141 977.5h2M147 977.5h23M172 977.5h2M145 978.5h27M145 979.5h27M202 979.5h2M146 980.5h25M174 980.5h2M202 980.5h2M139 981.5h4M145 981.5h27M174 981.5h2M139 982.5h4M145 982.5h27M175 982.5h2M141 983.5h2M146 983.5h26M174 983.5h6M139 984.5h2M142 984.5h3M146 984.5h34M139 985.5h2M142 985.5h32M177 985.5h2M144 986.5h28M177 986.5h2M144 987.5h28M174 987.5h2M177 987.5h2M142 988.5h31M174 988.5h2M177 988.5h2M139 989.5h2M142 989.5h31M139 990.5h2M142 990.5h2M145 990.5h28M184 990.5h2M139 991.5h2M142 991.5h2M146 991.5h27M184 991.5h2M252 991.5h2M139 992.5h2M142 992.5h32M197 992.5h2M252 992.5h2M140 993.5h34M197 993.5h2M140 994.5h5M146 994.5h26M140 995.5h33M140 996.5h35M176 996.5h2M140 997.5h35M176 997.5h3M140 998.5h35M177 998.5h2M142 999.5h33M144 1000.5h30M146 1001.5h22M169 1001.5h5M186 1001.5h2M146 1002.5h29M186 1002.5h2M205 1002.5h2M141 1003.5h34M205 1003.5h2M140 1004.5h32M140 1005.5h2M143 1005.5h31M176 1005.5h2M139 1006.5h35M176 1006.5h2M139 1007.5h34M188 1007.5h2M139 1008.5h1M143 1008.5h29M188 1008.5h2M141 1009.5h2M144 1009.5h28M141 1010.5h2M144 1010.5h27M173 1010.5h6M191 1010.5h2M144 1011.5h28M173 1011.5h6M191 1011.5h2M139 1012.5h2M145 1012.5h23M169 1012.5h6M139 1013.5h2M145 1013.5h23M169 1013.5h6M141 1014.5h2M145 1014.5h23M170 1014.5h4M139 1015.5h1M141 1015.5h4M146 1015.5h22M170 1015.5h2M139 1016.5h2M143 1016.5h26M170 1016.5h2M178 1016.5h4M139 1017.5h2M144 1017.5h2M147 1017.5h23M178 1017.5h4M140 1018.5h2M144 1018.5h2M147 1018.5h23M139 1019.5h3M147 1019.5h23M139 1020.5h2M146 1020.5h24M145 1021.5h24M145 1022.5h20M167 1022.5h2M146 1023.5h22M170 1023.5h2M145 1024.5h4M150 1024.5h18M170 1024.5h2M145 1025.5h4M150 1025.5h15M166 1025.5h2M175 1025.5h2M147 1026.5h19M175 1026.5h2M143 1027.5h2M147 1027.5h19M177 1027.5h2M143 1028.5h2M149 1028.5h7M157 1028.5h8M167 1028.5h2M177 1028.5h2M149 1029.5h16M167 1029.5h3M143 1030.5h2M149 1030.5h14M168 1030.5h2M143 1031.5h2M150 1031.5h5M156 1031.5h3M160 1031.5h3M150 1032.5h15M171 1032.5h2M151 1033.5h14M168 1033.5h2M171 1033.5h2M148 1034.5h2M151 1034.5h2M154 1034.5h11M168 1034.5h2M148 1035.5h2M155 1035.5h5M163 1035.5h3M155 1036.5h2M158 1036.5h2M163 1036.5h3M168 1036.5h2M154 1037.5h2M159 1037.5h2M168 1037.5h2M151 1038.5h2M154 1038.5h2M159 1038.5h2M147 1039.5h2M151 1039.5h2M154 1039.5h2M160 1039.5h2M163 1039.5h2M147 1040.5h2M152 1040.5h4M160 1040.5h2M163 1040.5h2M152 1041.5h3M157 1041.5h2M157 1042.5h2M145 1043.5h2M145 1044.5h2M140 1051.5h2M140 1052.5h2" stroke="#6b6b6b" stroke-width="1" fill="none" shape-rendering="crispEdges"/>
<path d="M138.6 886L319.5 884.4L319.5 1055.8L138.6 1056.2Z" fill="none" stroke="#000" stroke-width="1.5"/>
<path d="M178.8 885.6V1056.2M138.6 1003H319.5" stroke="#000" stroke-width="1.6"/>
<path d="M138.6 1056.2v7M138.6 1056.2h-7M152.2 1056.2v4.2M138.6 1043.4h-4.2M160.2 1056.2v4.2M138.6 1035.9h-4.2M165.8 1056.2v4.2M138.6 1030.6h-4.2M170.2 1056.2v4.2M138.6 1026.5h-4.2M173.8 1056.2v4.2M138.6 1023.1h-4.2M176.8 1056.2v4.2M138.6 1020.2h-4.2M179.4 1056.2v4.2M138.6 1017.8h-4.2M181.8 1056.2v4.2M138.6 1015.6h-4.2M183.8 1056.2v7M138.6 1013.7h-7M197.4 1056.2v4.2M138.6 1000.8h-4.2M205.4 1056.2v4.2M138.6 993.3h-4.2M211.1 1056.2v4.2M138.6 988.0h-4.2M215.4 1056.2v4.2M138.6 983.9h-4.2M219.0 1056.2v4.2M138.6 980.5h-4.2M222.0 1056.2v4.2M138.6 977.7h-4.2M224.7 1056.2v4.2M138.6 975.2h-4.2M227.0 1056.2v4.2M138.6 973.0h-4.2M229.1 1056.2v7M138.6 971.1h-7M242.7 1056.2v4.2M138.6 958.3h-4.2M250.6 1056.2v4.2M138.6 950.8h-4.2M256.3 1056.2v4.2M138.6 945.5h-4.2M260.7 1056.2v4.2M138.6 941.4h-4.2M264.2 1056.2v4.2M138.6 938.0h-4.2M267.3 1056.2v4.2M138.6 935.1h-4.2M269.9 1056.2v4.2M138.6 932.7h-4.2M272.2 1056.2v4.2M138.6 930.5h-4.2M274.3 1056.2v7M138.6 928.5h-7M287.9 1056.2v4.2M138.6 915.7h-4.2M295.9 1056.2v4.2M138.6 908.2h-4.2M301.5 1056.2v4.2M138.6 902.9h-4.2M305.9 1056.2v4.2M138.6 898.8h-4.2M309.5 1056.2v4.2M138.6 895.4h-4.2M312.5 1056.2v4.2M138.6 892.6h-4.2M315.1 1056.2v4.2M138.6 890.1h-4.2M317.4 1056.2v4.2M138.6 887.9h-4.2M319.5 1056.2v7M138.6 886h-7" stroke="#000" stroke-width="1.45"/>
<g transform="translate(132.1 1078.8)" class="tk"><text class="sa" font-size="14" transform="scale(0.78 1)">10</text><text x="12.3" y="-7.4" class="sa" font-size="13" transform="scale(0.85 1)" style="transform-origin:12.3px 0">0</text></g>
<g transform="translate(126.19999999999999 1066.8) rotate(-90)" class="tk"><text class="sa" font-size="13" transform="scale(1 0.93)">10</text><text x="14.2" y="-7.6" class="sa" font-size="14">0</text></g>
<g transform="translate(174.6 1078.8)" class="tk"><text class="sa" font-size="14" transform="scale(0.78 1)">10</text><text x="12.3" y="-7.4" class="sa" font-size="13" transform="scale(0.85 1)" style="transform-origin:12.3px 0">1</text></g>
<g transform="translate(126.19999999999999 1024.2) rotate(-90)" class="tk"><text class="sa" font-size="13" transform="scale(1 0.93)">10</text><text x="14.2" y="-7.6" class="sa" font-size="14">1</text></g>
<g transform="translate(219.0 1078.8)" class="tk"><text class="sa" font-size="14" transform="scale(0.78 1)">10</text><text x="12.3" y="-7.4" class="sa" font-size="13" transform="scale(0.85 1)" style="transform-origin:12.3px 0">2</text></g>
<g transform="translate(126.19999999999999 981.7) rotate(-90)" class="tk"><text class="sa" font-size="13" transform="scale(1 0.93)">10</text><text x="14.2" y="-7.6" class="sa" font-size="14">2</text></g>
<g transform="translate(264.2 1078.8)" class="tk"><text class="sa" font-size="14" transform="scale(0.78 1)">10</text><text x="12.3" y="-7.4" class="sa" font-size="13" transform="scale(0.85 1)" style="transform-origin:12.3px 0">3</text></g>
<g transform="translate(126.19999999999999 939.1) rotate(-90)" class="tk"><text class="sa" font-size="13" transform="scale(1 0.93)">10</text><text x="14.2" y="-7.6" class="sa" font-size="14">3</text></g>
<g transform="translate(308.4 1078.8)" class="tk"><text class="sa" font-size="14" transform="scale(0.78 1)">10</text><text x="12.3" y="-7.4" class="sa" font-size="13" transform="scale(0.85 1)" style="transform-origin:12.3px 0">4</text></g>
<g transform="translate(126.19999999999999 897.0) rotate(-90)" class="tk"><text class="sa" font-size="13" transform="scale(1 0.93)">10</text><text x="14.2" y="-7.6" class="sa" font-size="14">4</text></g>
<text x="228.1" y="1091.7" text-anchor="middle" class="sa" font-size="12.8" letter-spacing="0.1" stroke="#000" stroke-width="0.3">GFP</text>
<g class="tk" transform="translate(107.19999999999999 973.6) rotate(-90) scale(0.9 1)"><text text-anchor="middle" class="sa" font-size="15">CD34 PE</text></g>
<rect x="137.5" y="901.5" width="48" height="19" fill="#fff"/>
<text x="137.3" y="916.3" text-anchor="start" class="se" font-size="18">76.0%</text>
<text x="308" y="916" text-anchor="end" class="se" font-size="18">1.0%</text>
<text x="314" y="1041.5" text-anchor="end" class="se" font-size="18">0.0%</text>
<text x="368.9" y="955.8" class="se" font-size="21.7">GFP-</text>
</svg></body></html>
